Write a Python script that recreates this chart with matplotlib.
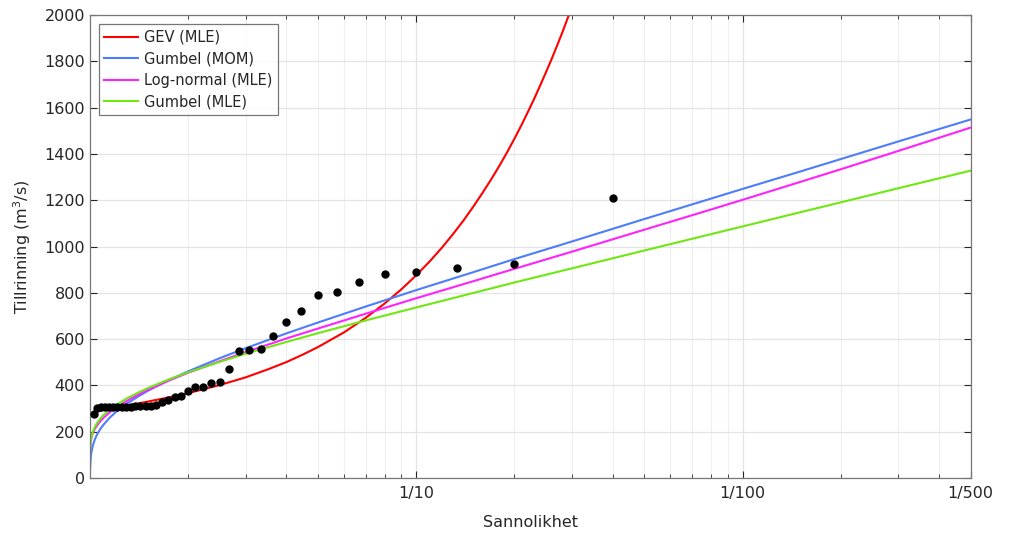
import matplotlib
matplotlib.use("Agg")
import matplotlib.pyplot as plt
from matplotlib.ticker import FixedLocator, NullFormatter

# return periods (years) used for the fitted curves
T_curve = [1.0, 1.001, 1.005, 1.01, 1.02, 1.035, 1.05, 1.075, 1.1, 1.15, 1.2, 1.3,
           1.4, 1.5, 1.75, 2, 2.5, 3, 4, 5, 7, 10, 15, 20, 30, 50, 75, 100, 150,
           200, 300, 500]

gumbel_mom = [0, 34, 83, 109, 138, 166, 186, 211, 230, 261, 285, 322, 351, 376, 424,
              461, 518, 561, 625, 672, 741, 812, 890, 946, 1022, 1119, 1195, 1249,
              1324, 1378, 1454, 1549]
lognormal = [0, 125, 155, 172, 192, 212, 226, 245, 260, 284, 303, 334, 359, 380, 422,
             455, 505, 544, 603, 646, 710, 777, 851, 904, 978, 1073, 1148, 1202,
             1279, 1334, 1413, 1514]
gumbel_mle = [0, 114, 153, 174, 198, 220, 236, 256, 272, 296, 315, 345, 368, 388, 427,
              457, 502, 537, 588, 626, 681, 737, 800, 845, 906, 983, 1044, 1087,
              1148, 1191, 1252, 1328]

T_gev = [1.001, 1.005, 1.01, 1.02, 1.035, 1.05, 1.075, 1.1, 1.15, 1.2, 1.3, 1.4,
         1.5, 1.75, 2, 2.5, 3, 3.5, 4, 4.5, 5, 6, 7, 8, 9, 10, 11, 12, 13, 14, 15,
         16, 17, 18, 19, 20, 21, 22, 23, 24, 25, 26, 27, 28, 29, 30]
gev = [273, 277, 279, 282, 285, 287, 291, 294, 300, 304, 313, 322, 330, 349, 367,
       402, 435, 469, 501, 534, 566, 629, 692, 754, 815, 876, 936, 996, 1056, 1115,
       1175, 1234, 1292, 1350, 1408, 1466, 1524, 1582, 1639, 1697, 1754, 1810, 1867,
       1923, 1980, 2036]

# observed annual maxima at their plotting positions
T_obs = [40.0, 20.0, 13.33, 10.0, 8.0, 6.667, 5.714, 5.0, 4.444, 4.0, 3.636, 3.333,
         3.077, 2.857, 2.667, 2.5, 2.353, 2.222, 2.105, 2.0, 1.905, 1.818, 1.739,
         1.667, 1.6, 1.538, 1.481, 1.429, 1.379, 1.333, 1.290, 1.25, 1.212, 1.176,
         1.143, 1.111, 1.081, 1.053, 1.026]
Q_obs = [1212, 925, 907, 890, 881, 847, 806, 789, 721, 673, 615, 556, 553, 547, 470,
         413, 409, 395, 395, 377, 355, 349, 337, 327, 316, 312, 311, 310, 310, 309,
         309, 308, 308, 307, 307, 306, 305, 304, 276]

xticks = [10, 100, 500]
xticklabels = ["1/10", "1/100", "1/500"]

dark = "#262626"
plt.rcParams["font.family"] = ["DejaVu Sans"]

fig = plt.figure(figsize=(10.1, 5.39), dpi=100)
ax = fig.add_axes([0.089, 0.113, 0.872, 0.859])

ax.plot(T_gev, gev, color="#ff0000", lw=1.5, label="GEV (MLE)")
ax.plot(T_curve, gumbel_mom, color="#4d7dff", lw=1.5, label="Gumbel (MOM)")
ax.plot(T_curve, lognormal, color="#ff22ff", lw=1.5, label="Log-normal (MLE)")
ax.plot(T_curve, gumbel_mle, color="#6ee812", lw=1.5, label="Gumbel (MLE)")
ax.plot(T_obs, Q_obs, "o", color="black", ms=5, zorder=5)

ax.set_xscale("log")
ax.set_xlim(1, 500)
ax.set_ylim(0, 2000)
ax.set_yticks(range(0, 2001, 200))
ax.xaxis.set_major_locator(FixedLocator(xticks))
ax.set_xticklabels(xticklabels)
minors = [2, 3, 4, 5, 6, 7, 8, 9, 20, 30, 40, 50, 60, 70, 80, 90, 200, 300, 400]
ax.xaxis.set_minor_locator(FixedLocator(minors))
ax.xaxis.set_minor_formatter(NullFormatter())

ax.grid(True, which="major", color="#e4e4e4", lw=0.9)
ax.grid(True, which="minor", axis="x", color="#efefef", lw=0.8)
ax.set_axisbelow(True)

ax.tick_params(which="both", direction="in", top=True, right=True, colors=dark,
               labelsize=11.5)
ax.tick_params(which="major", length=5)
ax.tick_params(which="minor", length=3)
ax.tick_params(axis="x", pad=6)
for s in ax.spines.values():
    s.set_color("#777777")
    s.set_linewidth(0.9)

ax.set_xlabel("Sannolikhet", fontsize=11.5, color=dark, labelpad=10)
ax.set_ylabel("Tillrinning (m$^3$/s)", fontsize=11.5, color=dark, labelpad=8)

leg = ax.legend(loc="upper left", fontsize=10.5, frameon=True, fancybox=False,
                edgecolor="#555555", handlelength=2.3, borderpad=0.4,
                labelspacing=0.45, handletextpad=0.4, borderaxespad=0.6)
leg.get_frame().set_linewidth(0.9)
for t in leg.get_texts():
    t.set_color(dark)

fig.savefig("out.png", dpi=100)
